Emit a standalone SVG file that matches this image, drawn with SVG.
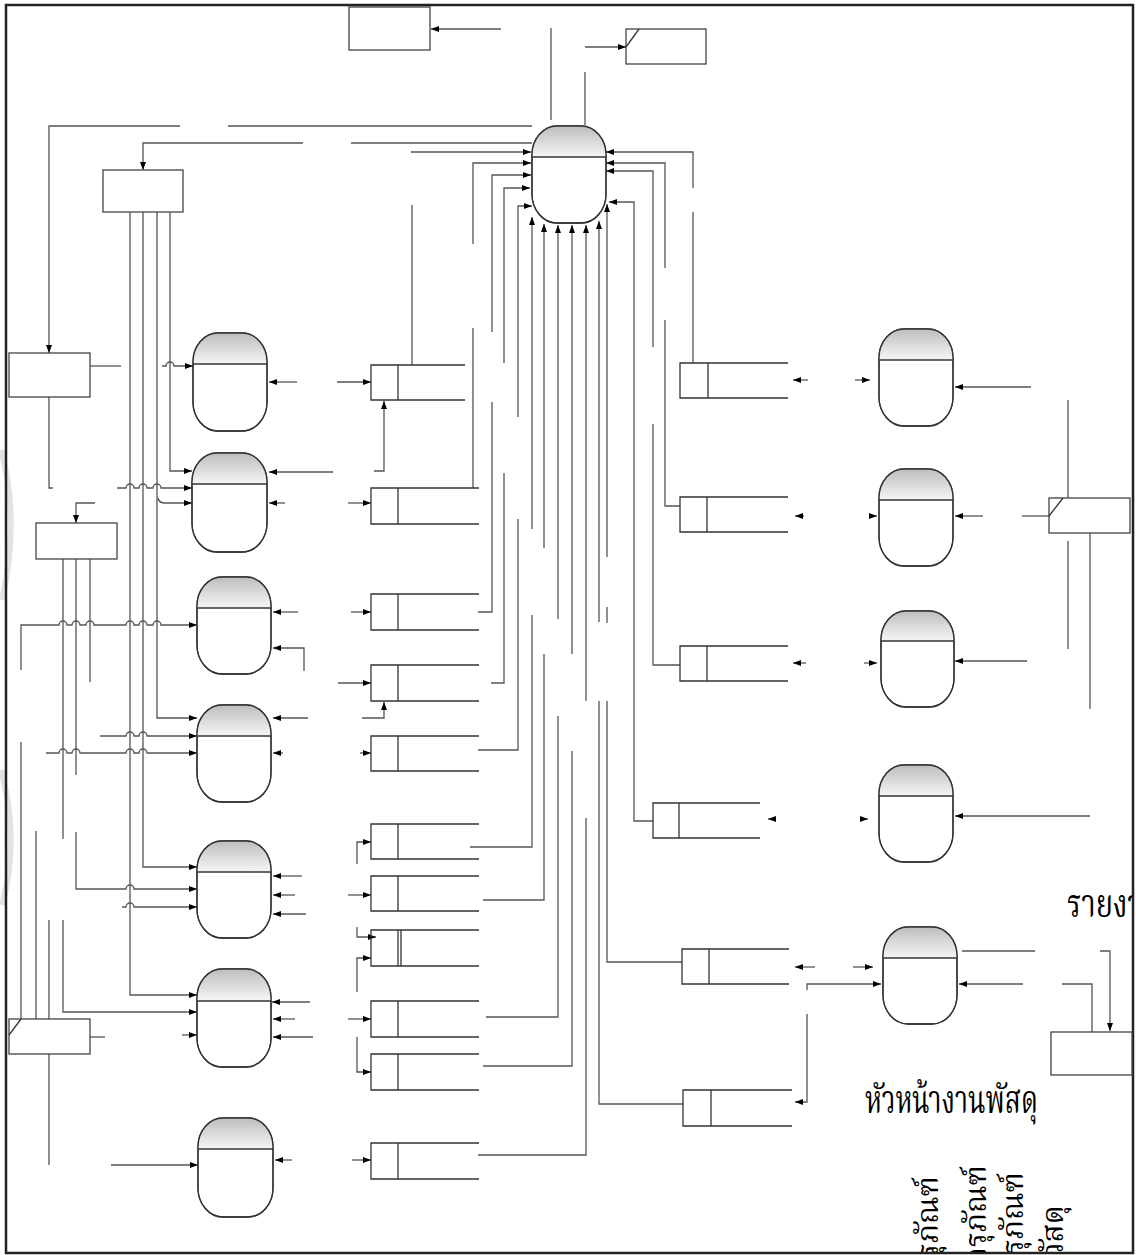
<svg xmlns="http://www.w3.org/2000/svg" width="1136" height="1255" viewBox="0 0 1136 1255">
<defs>
<linearGradient id="g" x1="0" y1="0" x2="0" y2="1"><stop offset="0" stop-color="#bdbdbd"/><stop offset="1" stop-color="#f6f6f6"/></linearGradient>
<marker id="ah" viewBox="0 0 8 6" refX="8" refY="3" markerWidth="8" markerHeight="6" markerUnits="userSpaceOnUse" orient="auto"><path d="M0,0 L8,3 L0,6 z" fill="#000"/></marker>
<clipPath id="fr"><rect x="7" y="6" width="1125" height="1246"/></clipPath>
<style>
.ln{fill:none;stroke:#555;stroke-width:1.3}
.ar{marker-end:url(#ah)}
.box{fill:#fff;stroke:#444;stroke-width:1.3}
.pr{fill:#fff;stroke:#333;stroke-width:1.3}
.po{fill:none;stroke:#333;stroke-width:1.3}
.cap{fill:url(#g)}
.st{fill:none;stroke:#333;stroke-width:1.3}
.th{font-family:'Noto Serif Thai','Norasi','Noto Sans Thai','Loma','Garuda','DejaVu Sans',serif;fill:#000}
</style>
</defs>
<rect x="0" y="0" width="1136" height="1255" fill="#fff"/>
<g id="watermark" fill="none" stroke="#e3e3e3" stroke-width="6">
<path d="M1,450 Q20,520 2,600"/>
<path d="M1,770 Q20,840 2,905"/>
</g>
<rect id="frame" x="6" y="5" width="1127" height="1248" fill="none" stroke="#222" stroke-width="2.5"/>

<g id="connectors">
<path class="ln ar" d="M501,29 H431"/>
<path class="ln" d="M551,28 V120"/>
<path class="ln ar" d="M585,47 H626"/>
<path class="ln" d="M585,72 V125"/>
<path class="ln" d="M532,126 H228"/>
<path class="ln ar" d="M180,126 H49 V353"/>
<path class="ln" d="M532,143 H351"/>
<path class="ln ar" d="M303,143 H143 V170"/>
<path class="ln ar" d="M411,152 H531"/>
<path class="ln ar" d="M473,244 V163 H531"/>
<path class="ln" d="M473,328 V488"/>
<path class="ln ar" d="M492,332 V175 H531"/>
<path class="ln" d="M492,402 V612 H478"/>
<path class="ln ar" d="M504,363 V188 H530"/>
<path class="ln" d="M504,473 V683 H491"/>
<path class="ln ar" d="M518,417 V206 H532"/>
<path class="ln" d="M518,519 V750 H478"/>
<path class="ln ar" d="M532,529 V217"/>
<path class="ln" d="M532,615 V847 H470"/>
<path class="ln ar" d="M544,548 V224"/>
<path class="ln" d="M544,654 V900 H483"/>
<path class="ln ar" d="M558,619 V225"/>
<path class="ln" d="M558,716 V1017 H486"/>
<path class="ln ar" d="M572,654 V225"/>
<path class="ln" d="M572,751 V1066 H483"/>
<path class="ln ar" d="M586,701 V225"/>
<path class="ln" d="M586,818 V1155 H478"/>
<path class="ln ar" d="M599,622 V221"/>
<path class="ln" d="M599,701 V1104 H683"/>
<path class="ln ar" d="M607,557 V204"/>
<path class="ln" d="M607,607 V623"/>
<path class="ln" d="M607,701 V962 H682"/>
<path class="ln ar" d="M653,821 H634 V202 H609"/>
<path class="ln ar" d="M653,347 V171 H606"/>
<path class="ln" d="M653,424 V665 H680"/>
<path class="ln ar" d="M665,268 V163 H606"/>
<path class="ln" d="M665,320 V506 H680"/>
<path class="ln ar" d="M693,188 V152 H606"/>
<path class="ln" d="M693,212 V363"/>

<path class="ln ar" d="M170,212 V471 H192"/>
<path class="ln ar" d="M157,212 V718 H197"/>
<path class="ln ar" d="M143,212 V867 H197"/>
<path class="ln ar" d="M130,212 V995 H197"/>
<path class="ln ar" d="M162,366 H166 A4,4 0 0 1 174,366 H193"/>
<path class="ln" d="M90,366 H121"/>
<path class="ln" d="M49,397 V488 H53"/>
<path class="ln ar" d="M117,488 H126 A4,4 0 0 1 134,488 H139 A4,4 0 0 1 147,488 H153 A4,4 0 0 1 161,488 H192"/>
<path class="ln ar" d="M158,498 Q159,503 165,503 H192"/>
<path class="ln ar" d="M95,503 H76 V523"/>
<path class="ln" d="M63,559 V839 M76,559 V775 M90,559 V682"/>
<path class="ln ar" d="M21,670 V625 H59 A4,4 0 0 1 67,625 H72 A4,4 0 0 1 80,625 H86 A4,4 0 0 1 94,625 H126 A4,4 0 0 1 134,625 H139 A4,4 0 0 1 147,625 H153 A4,4 0 0 1 161,625 H197"/>
<path class="ln ar" d="M100,736 H126 A4,4 0 0 1 134,736 H139 A4,4 0 0 1 147,736 H197"/>
<path class="ln ar" d="M46,753 H59 A4,4 0 0 1 67,753 H72 A4,4 0 0 1 80,753 H126 A4,4 0 0 1 134,753 H139 A4,4 0 0 1 147,753 H197"/>
<path class="ln" d="M21,742 V1019 M36,831 V1019 M49,920 V1019 M49,1054 V1165"/>
<path class="ln ar" d="M76,832 V889 H126 A4,4 0 0 1 134,889 H197"/>
<path class="ln ar" d="M122,907 H126 A4,4 0 0 1 134,907 H197"/>
<path class="ln ar" d="M63,920 V1012 H197"/>
<path class="ln ar" d="M182,1035 H197"/>
<path class="ln" d="M90,1037 H105"/>
<path class="ln ar" d="M111,1165 H198"/>

<path class="ln ar" d="M297,382 H269"/>
<path class="ln ar" d="M337,382 H371"/>
<path class="ln ar" d="M374,471 H384 V401"/>
<path class="ln" d="M412,205 V365"/>
<path class="ln ar" d="M333,472 H269"/>
<path class="ln ar" d="M285,503 H269"/>
<path class="ln ar" d="M348,503 H371"/>
<path class="ln ar" d="M298,612 H273"/>
<path class="ln ar" d="M304,671 V648 H273"/>
<path class="ln ar" d="M351,612 H371"/>
<path class="ln ar" d="M338,683 H371"/>
<path class="ln ar" d="M362,718 H384 V702"/>
<path class="ln ar" d="M308,718 H273"/>
<path class="ln ar" d="M283,753 H273"/>
<path class="ln ar" d="M360,753 H371"/>
<path class="ln ar" d="M357,864 V842 H371"/>
<path class="ln ar" d="M302,876 H273"/>
<path class="ln ar" d="M295,895 H273"/>
<path class="ln ar" d="M306,914 H273"/>
<path class="ln ar" d="M348,895 H371"/>
<path class="ln ar" d="M357,927 V937 H376"/>
<path class="ln ar" d="M357,992 V958 H371"/>
<path class="ln ar" d="M310,1002 H272"/>
<path class="ln ar" d="M295,1019 H273"/>
<path class="ln ar" d="M313,1037 H273"/>
<path class="ln ar" d="M348,1019 H371"/>
<path class="ln ar" d="M357,1037 V1072 H371"/>
<path class="ln ar" d="M292,1160 H275"/>
<path class="ln ar" d="M352,1160 H371"/>

<path class="ln ar" d="M808,380 H793"/>
<path class="ln ar" d="M855,380 H870"/>
<path class="ln ar" d="M1031,387 H955"/>
<path class="ln ar" d="M804,516 H795"/>
<path class="ln ar" d="M869,516 H877"/>
<path class="ln ar" d="M983,516 H955"/>
<path class="ln" d="M1022,516 H1049"/>
<path class="ln" d="M1068,400 V498 M1068,541 V649 M1090,533 V709"/>
<path class="ln ar" d="M806,663 H793"/>
<path class="ln ar" d="M864,663 H877"/>
<path class="ln ar" d="M1027,661 H955"/>
<path class="ln ar" d="M776,819 H768"/>
<path class="ln ar" d="M860,819 H868"/>
<path class="ln ar" d="M1090,816 H955"/>
<path class="ln ar" d="M815,967 H795"/>
<path class="ln ar" d="M853,967 H873"/>
<path class="ln ar" d="M807,990 V984 H881"/>
<path class="ln ar" d="M807,1014 V1102 H795"/>
<path class="ln" d="M962,951 H1035"/>
<path class="ln ar" d="M1100,951 H1110 V1031"/>
<path class="ln ar" d="M1023,984 H959"/>
<path class="ln" d="M1062,984 H1092 V1032"/>
</g>

<g id="C"><rect class="pr" x="532" y="126" width="74" height="97" rx="25" ry="29"/><path class="cap" d="M532,157 V155 A25,29 0 0 1 557,126 H581 A25,29 0 0 1 606,155 V157 Z"/><line class="st" x1="532" y1="157" x2="606" y2="157"/><rect class="po" x="532" y="126" width="74" height="97" rx="25" ry="29"/></g>
<g id="P1"><rect class="pr" x="193" y="333" width="74" height="98" rx="25" ry="29"/><path class="cap" d="M193,364 V362 A25,29 0 0 1 218,333 H242 A25,29 0 0 1 267,362 V364 Z"/><line class="st" x1="193" y1="364" x2="267" y2="364"/><rect class="po" x="193" y="333" width="74" height="98" rx="25" ry="29"/></g>
<g id="P2"><rect class="pr" x="192" y="453" width="75" height="99" rx="25" ry="29"/><path class="cap" d="M192,484 V482 A25,29 0 0 1 217,453 H242 A25,29 0 0 1 267,482 V484 Z"/><line class="st" x1="192" y1="484" x2="267" y2="484"/><rect class="po" x="192" y="453" width="75" height="99" rx="25" ry="29"/></g>
<g id="P3"><rect class="pr" x="197" y="577" width="74" height="97" rx="25" ry="29"/><path class="cap" d="M197,608 V606 A25,29 0 0 1 222,577 H246 A25,29 0 0 1 271,606 V608 Z"/><line class="st" x1="197" y1="608" x2="271" y2="608"/><rect class="po" x="197" y="577" width="74" height="97" rx="25" ry="29"/></g>
<g id="P4"><rect class="pr" x="197" y="705" width="74" height="97" rx="25" ry="29"/><path class="cap" d="M197,736 V734 A25,29 0 0 1 222,705 H246 A25,29 0 0 1 271,734 V736 Z"/><line class="st" x1="197" y1="736" x2="271" y2="736"/><rect class="po" x="197" y="705" width="74" height="97" rx="25" ry="29"/></g>
<g id="P5"><rect class="pr" x="197" y="841" width="74" height="97" rx="25" ry="29"/><path class="cap" d="M197,872 V870 A25,29 0 0 1 222,841 H246 A25,29 0 0 1 271,870 V872 Z"/><line class="st" x1="197" y1="872" x2="271" y2="872"/><rect class="po" x="197" y="841" width="74" height="97" rx="25" ry="29"/></g>
<g id="P6"><rect class="pr" x="197" y="969" width="74" height="98" rx="25" ry="29"/><path class="cap" d="M197,1001 V998 A25,29 0 0 1 222,969 H246 A25,29 0 0 1 271,998 V1001 Z"/><line class="st" x1="197" y1="1001" x2="271" y2="1001"/><rect class="po" x="197" y="969" width="74" height="98" rx="25" ry="29"/></g>
<g id="P7"><rect class="pr" x="198" y="1118" width="75" height="99" rx="25" ry="29"/><path class="cap" d="M198,1149 V1147 A25,29 0 0 1 223,1118 H248 A25,29 0 0 1 273,1147 V1149 Z"/><line class="st" x1="198" y1="1149" x2="273" y2="1149"/><rect class="po" x="198" y="1118" width="75" height="99" rx="25" ry="29"/></g>
<g id="R1"><rect class="pr" x="879" y="329" width="74" height="97" rx="25" ry="29"/><path class="cap" d="M879,360 V358 A25,29 0 0 1 904,329 H928 A25,29 0 0 1 953,358 V360 Z"/><line class="st" x1="879" y1="360" x2="953" y2="360"/><rect class="po" x="879" y="329" width="74" height="97" rx="25" ry="29"/></g>
<g id="R2"><rect class="pr" x="879" y="469" width="74" height="97" rx="25" ry="29"/><path class="cap" d="M879,500 V498 A25,29 0 0 1 904,469 H928 A25,29 0 0 1 953,498 V500 Z"/><line class="st" x1="879" y1="500" x2="953" y2="500"/><rect class="po" x="879" y="469" width="74" height="97" rx="25" ry="29"/></g>
<g id="R3"><rect class="pr" x="881" y="611" width="73" height="96" rx="25" ry="29"/><path class="cap" d="M881,641 V640 A25,29 0 0 1 906,611 H929 A25,29 0 0 1 954,640 V641 Z"/><line class="st" x1="881" y1="641" x2="954" y2="641"/><rect class="po" x="881" y="611" width="73" height="96" rx="25" ry="29"/></g>
<g id="R4"><rect class="pr" x="879" y="765" width="74" height="97" rx="25" ry="29"/><path class="cap" d="M879,796 V794 A25,29 0 0 1 904,765 H928 A25,29 0 0 1 953,794 V796 Z"/><line class="st" x1="879" y1="796" x2="953" y2="796"/><rect class="po" x="879" y="765" width="74" height="97" rx="25" ry="29"/></g>
<g id="R5"><rect class="pr" x="883" y="927" width="74" height="97" rx="25" ry="29"/><path class="cap" d="M883,958 V956 A25,29 0 0 1 908,927 H932 A25,29 0 0 1 957,956 V958 Z"/><line class="st" x1="883" y1="958" x2="957" y2="958"/><rect class="po" x="883" y="927" width="74" height="97" rx="25" ry="29"/></g>

<g id="E1"><rect class="box" x="349" y="7" width="81" height="43"/></g>
<g id="E2"><rect class="box" x="626" y="29" width="80" height="35"/><line class="st" x1="626" y1="47" x2="639" y2="29"/></g>
<g id="E3"><rect class="box" x="103" y="170" width="80" height="42"/></g>
<g id="E4"><rect class="box" x="9" y="353" width="81" height="44"/></g>
<g id="E5"><rect class="box" x="36" y="523" width="81" height="36"/></g>
<g id="E6"><rect class="box" x="9" y="1019" width="81" height="35"/><line class="st" x1="21" y1="1019" x2="9" y2="1035"/></g>
<g id="E7"><rect class="box" x="1049" y="498" width="81" height="35"/><line class="st" x1="1049" y1="516" x2="1063" y2="498"/></g>
<g id="E8"><rect class="box" x="1051" y="1032" width="81" height="43"/></g>

<g id="D1"><path class="st" d="M465,365 H371 V400 H465 M398,365 V400"/></g>
<g id="D2"><path class="st" d="M479,488 H371 V524 H479 M398,488 V524"/></g>
<g id="D3"><path class="st" d="M479,594 H371 V630 H479 M398,594 V630"/></g>
<g id="D4"><path class="st" d="M479,665 H371 V701 H479 M398,665 V701"/></g>
<g id="D5"><path class="st" d="M479,736 H371 V771 H479 M398,736 V771"/></g>
<g id="D6"><path class="st" d="M479,824 H371 V859 H479 M398,824 V859"/></g>
<g id="D7"><path class="st" d="M479,876 H371 V911 H479 M398,876 V911"/></g>
<g id="D8"><path class="st" d="M479,930 H371 V966 H479 M398,930 V966 M401,930 V966"/></g>
<g id="D9"><path class="st" d="M479,1001 H371 V1037 H479 M398,1001 V1037"/></g>
<g id="D10"><path class="st" d="M479,1054 H371 V1090 H479 M398,1054 V1090"/></g>
<g id="D11"><path class="st" d="M479,1143 H371 V1179 H479 M398,1143 V1179"/></g>
<g id="S1"><path class="st" d="M788,363 H680 V398 H788 M708,363 V398"/></g>
<g id="S2"><path class="st" d="M788,497 H680 V532 H788 M707,497 V532"/></g>
<g id="S3"><path class="st" d="M788,646 H680 V681 H788 M707,646 V681"/></g>
<g id="S4"><path class="st" d="M760,803 H653 V838 H760 M679,803 V838"/></g>
<g id="S5"><path class="st" d="M789,949 H682 V984 H789 M709,949 V984"/></g>
<g id="S6"><path class="st" d="M792,1090 H683 V1126 H792 M711,1090 V1126"/></g>

<g id="labels" clip-path="url(#fr)">
<text class="th" x="865" y="1113" font-size="40" textLength="173" lengthAdjust="spacingAndGlyphs">หัวหน้างานพัสดุ</text>
<text class="th" x="1067" y="917" font-size="40" textLength="94" lengthAdjust="spacingAndGlyphs">รายงาน</text>
<text class="th" font-size="30" text-anchor="end" transform="translate(938,1176) rotate(-90)">ทะเบียนครุภัณฑ์</text>
<text class="th" font-size="30" text-anchor="end" transform="translate(986,1165) rotate(-90)">ทะเบียนครุภัณฑ์</text>
<text class="th" font-size="30" text-anchor="end" transform="translate(1023,1172) rotate(-90)">ทะเบียนครุภัณฑ์</text>
<text class="th" font-size="30" text-anchor="end" transform="translate(1063,1205) rotate(-90)">ทะเบียนวัสดุ</text>
</g>
</svg>
